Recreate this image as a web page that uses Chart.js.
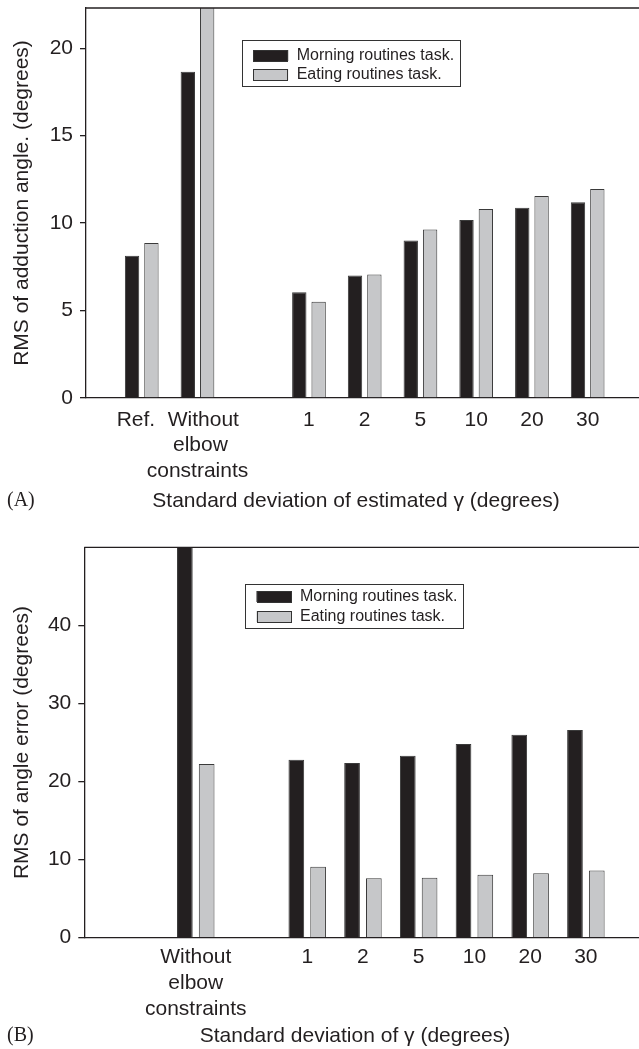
<!DOCTYPE html>
<html>
<head>
<meta charset="utf-8">
<script src="https://cdn.jsdelivr.net/npm/chart.js@4/dist/chart.umd.min.js"></script>
<style>
  html, body { margin: 0; background: #fff; overflow: hidden; }
  .panel { position: absolute; left: 0; width: 644px; }
  #wrapA { top: 0; height: 520px; }
  #wrapB { top: 520px; height: 529px; }
</style>
</head>
<body>
<div class="panel" id="wrapA"><canvas id="chartA"></canvas></div>
<div class="panel" id="wrapB"><canvas id="chartB"></canvas></div>
<script>
const seriesNames = ['Morning routines task.', 'Eating routines task.'];

// panel A: RMS of adduction angle
const labelsA = ['', 'Ref.  ', ['  Without', ' elbow', 'constraints'], '', '1', '2', '5', '10', '20', '30', ''];
const morningA = [null, 8.14, 18.66, null, 6.05, 7.0, 9.0, 10.18, 10.88, 11.2, null];
const eatingA  = [null, 8.86, 23.5, null, 5.51, 7.06, 9.63, 10.8, 11.55, 11.95, null];
const ticksA = [0, 5, 10, 15, 20];

// panel B: RMS of angle error
const labelsB = ['', '', ['Without', 'elbow', 'constraints'], '', '1', '2', '5', '10', '20', '30', ''];
const morningB = [null, null, 52, null, 22.8, 22.38, 23.3, 24.8, 26.0, 26.6, null];
const eatingB  = [null, null, 22.25, null, 9.08, 7.6, 7.67, 8.06, 8.27, 8.62, null];
const ticksB = [0, 10, 20, 30, 40];

const ink = '#231f20';
const fam = '"Liberation Sans", Arial, Helvetica, sans-serif';

// top frame line, legend box, panel letter and x title
const decor = {
  id: 'decor',
  afterDraw(chart, args, o) {
    const { ctx, chartArea: a } = chart;
    ctx.save();
    ctx.strokeStyle = ink;
    ctx.lineWidth = 1.3;
    ctx.beginPath();
    ctx.moveTo(a.left, a.top);
    ctx.lineTo(a.right, a.top);
    ctx.stroke();

    const x0 = a.left + o.x, y0 = a.top + o.y;
    ctx.lineWidth = 1;
    ctx.strokeStyle = '#333';
    ctx.strokeRect(Math.round(x0) + 0.5, Math.round(y0) + 0.5, o.w, o.h);
    ctx.font = '16px ' + fam;
    ctx.textBaseline = 'middle';
    chart.data.datasets.forEach((ds, i) => {
      const sy = Math.round(y0 + o.first + i * o.row);
      ctx.fillStyle = ds.backgroundColor;
      ctx.fillRect(x0 + 11.5, sy, 35, 11);
      ctx.strokeStyle = '#333';
      ctx.strokeRect(Math.round(x0 + 11.5) + 0.5, sy + 0.5, 34, 11);
      ctx.fillStyle = ink;
      ctx.fillText(ds.label, x0 + 55, sy + 6);
    });

    ctx.fillStyle = ink;
    ctx.textBaseline = 'middle';
    ctx.font = '20px "Liberation Serif", "Times New Roman", serif';
    ctx.textAlign = 'left';
    ctx.fillText(o.letter, 7, o.titleY);
    ctx.font = '21px ' + fam;
    ctx.textAlign = 'center';
    ctx.fillText(o.title, o.titleX, o.titleY);
    ctx.restore();
  }
};

function makeChart(id, labels, morning, eating, yTicks, s) {
  return new Chart(document.getElementById(id), {
    type: 'bar',
    data: {
      labels: labels,
      datasets: [
        { label: seriesNames[0], data: morning, backgroundColor: ink, borderColor: '#3a3a3a', borderWidth: 1 },
        { label: seriesNames[1], data: eating, backgroundColor: '#c6c7c9', borderColor: '#3a3a3a', borderWidth: 1 }
      ]
    },
    options: {
      responsive: true,
      maintainAspectRatio: false,
      animation: false,
      categoryPercentage: s.cat,
      barPercentage: s.bar,
      layout: { padding: { top: s.top, right: s.right, left: 0, bottom: 0 } },
      plugins: {
        legend: { display: false },
        tooltip: { enabled: false },
        decor: s.decor
      },
      scales: {
        x: {
          offset: false,
          grid: { display: false, offset: false },
          border: { display: true, color: ink, width: 1.3 },
          ticks: {
            color: ink, padding: s.tickPad, maxRotation: 0, autoSkip: false,
            font: { family: fam, size: 21, lineHeight: 1.22 }
          },
          afterFit(scale) {
            scale.height = s.xHeight;
            scale.paddingLeft = 0;
            scale.paddingRight = 0;
          }
        },
        y: {
          min: 0,
          max: s.max,
          grid: { drawOnChartArea: false, drawTicks: true, tickLength: 6, color: ink, lineWidth: 1.3 },
          border: { display: true, color: ink, width: 1.3 },
          ticks: { color: ink, padding: 7, font: { family: fam, size: 21 } },
          afterBuildTicks(scale) { scale.ticks = yTicks.map(v => ({ value: v })); },
          title: {
            display: true, text: s.yTitle, color: ink,
            font: { family: fam, size: 21 }, padding: { top: 10, bottom: 0 }
          },
          afterFit(scale) {
            scale.width = s.yWidth;
            scale.paddingTop = 0;
            scale.paddingBottom = 0;
          }
        }
      }
    },
    plugins: [decor]
  });
}

makeChart('chartA', labelsA, morningA, eatingA, ticksA, {
  max: 22.3, cat: 0.694, bar: 0.742, top: 8, right: 0.6, tickPad: 1, xHeight: 122, yWidth: 86,
  yTitle: 'RMS of adduction angle. (degrees)',
  decor: { x: 155.7, y: 32, w: 218, h: 46, first: 10, row: 19, letter: '(A)',
           title: 'Standard deviation of estimated \u03b3 (degrees)', titleX: 356, titleY: 501 }
});

makeChart('chartB', labelsB, morningB, eatingB, ticksB, {
  max: 50, cat: 0.782, bar: 0.72, top: 27.3, right: 2.4, tickPad: -1, xHeight: 111.3, yWidth: 84.3,
  yTitle: 'RMS of angle error (degrees)',
  decor: { x: 160.7, y: 37, w: 218, h: 44, first: 7, row: 19.7, letter: '(B)',
           title: 'Standard deviation of \u03b3 (degrees)', titleX: 355, titleY: 516 }
});
</script>
</body>
</html>
